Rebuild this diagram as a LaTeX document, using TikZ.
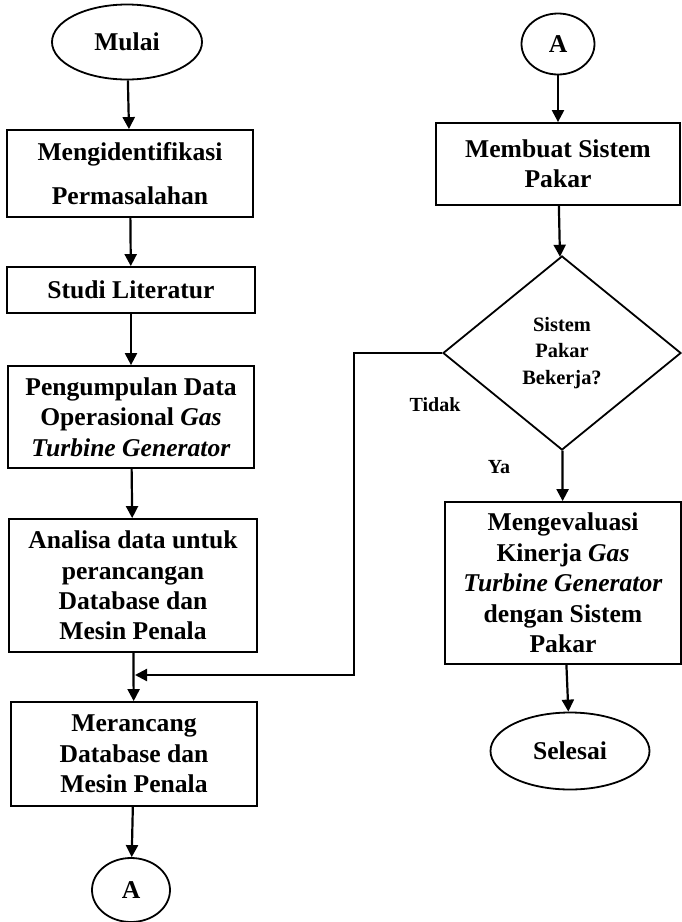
\documentclass[tikz,border=0pt]{standalone}
\usepackage{fontspec}
\setmainfont{Liberation Serif}
\usetikzlibrary{arrows.meta, shapes.geometric}

\begin{document}
\begin{tikzpicture}[x=0.5pt, y=-0.5pt,
    every node/.style={font=\fontsize{12.8}{15.2}\selectfont\bfseries, inner sep=0pt},
    terminal/.style={ellipse, draw, line width=0.9pt},
    prosesbox/.style={rectangle, draw, line width=0.9pt, align=center},
    keputusan/.style={diamond, draw, line width=0.9pt, align=center,
        font=\fontsize{10.2}{13.3}\selectfont\bfseries},
    label/.style={font=\fontsize{10}{12}\selectfont\bfseries},
    arr/.style={line width=1.1pt, -{Triangle[length=6pt, width=6pt]}}]
    \useasboundingbox (0,0) rectangle (681,922);
    % kolom kiri
    \node[terminal, minimum width=75pt, minimum height=37.5pt] (mulai) at (127,42) {Mulai};
    \node[prosesbox, minimum width=123pt, minimum height=43.5pt] (identifikasi) at (130,173.5)
        {Mengidentifikasi\\[7pt]Permasalahan};
    \node[prosesbox, minimum width=124pt, minimum height=23pt] (studi) at (131,290) {Studi Literatur};
    \node[prosesbox, minimum width=123pt, minimum height=51pt] (kumpul) at (131,417)
        {Pengumpulan Data\\Operasional \textit{Gas}\\\textit{Turbine Generator}};
    \node[prosesbox, minimum width=124pt, minimum height=66.5pt] (analisa) at (133,585.5)
        {Analisa data untuk\\perancangan\\Database dan\\Mesin Penala};
    \node[prosesbox, minimum width=123pt, minimum height=52pt] (rancang) at (134,754)
        {Merancang\\Database dan\\Mesin Penala};
    \node[terminal, minimum width=39pt, minimum height=32pt] (konA) at (131,890) {A};
    % kolom kanan
    \node[terminal, minimum width=36.5pt, minimum height=30.5pt] (konB) at (558,44) {A};
    \node[prosesbox, minimum width=122pt, minimum height=41pt] (buat) at (558,164)
        {Membuat Sistem\\Pakar};
    \node[keputusan, minimum width=119pt, minimum height=97pt] (cek) at (562,353)
        {Sistem\\Pakar\\Bekerja?};
    \node[prosesbox, minimum width=118pt, minimum height=81pt] (evaluasi) at (563,583)
        {Mengevaluasi\\Kinerja \textit{Gas}\\\textit{Turbine Generator}\\dengan Sistem\\Pakar};
    \node[terminal, minimum width=79.5pt, minimum height=38.5pt] (selesai) at (570,751) {Selesai};
    \node[label] (tidak) at (435,405) {Tidak};
    \node[label] (ya) at (499,467) {Ya};
    \coordinate (belok) at (354,675);
    \coordinate (gabung) at (135,675);

    \draw[arr] (mulai) -- (identifikasi);
    \draw[arr] (identifikasi) -- (studi);
    \draw[arr] (studi) -- (kumpul);
    \draw[arr] (kumpul) -- (analisa);
    \draw[arr] (analisa) -- (rancang);
    \draw[arr] (rancang) -- (konA);
    \draw[arr] (konB) -- (buat);
    \draw[arr] (buat) -- (cek);
    \draw[arr] (cek) -- (evaluasi);
    \draw[arr] (evaluasi) -- (selesai);
    \draw[arr] (cek.west) -| (belok) -- (gabung);
\end{tikzpicture}
\end{document}
